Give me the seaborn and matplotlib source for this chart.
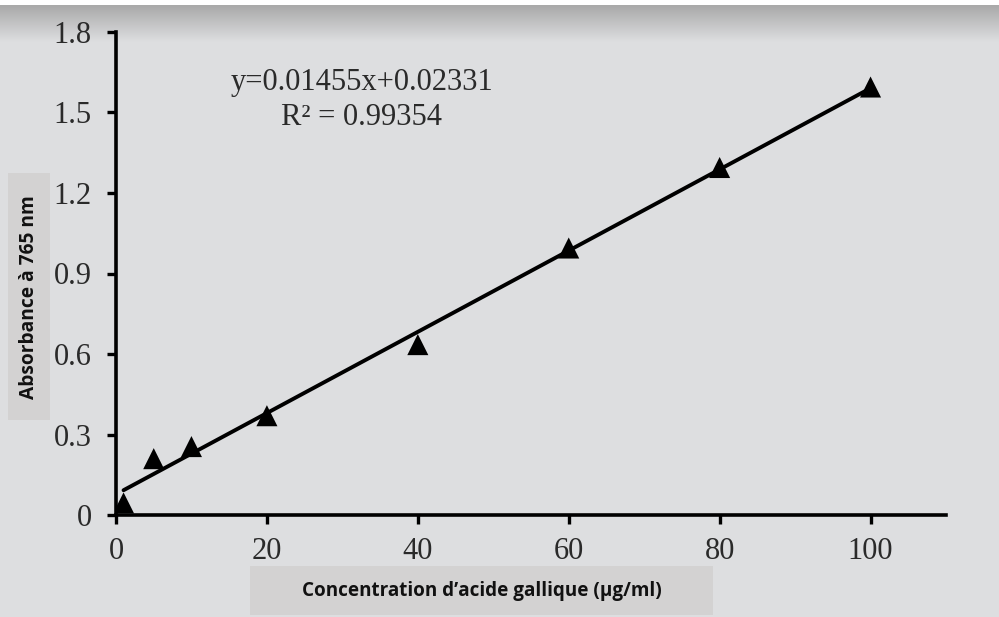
import matplotlib.pyplot as plt
import numpy as np
import pandas as pd
import seaborn as sns
from matplotlib.colors import LinearSegmentedColormap
from matplotlib.patches import Rectangle

# gallic acid calibration points
concentration = [1, 5, 10, 20, 40, 60, 80, 100]
absorbance = [0.045, 0.21, 0.255, 0.37, 0.635, 0.995, 1.295, 1.595]
x_ticks = [0, 20, 40, 60, 80, 100]
y_ticks = [0, 0.3, 0.6, 0.9, 1.2, 1.5, 1.8]
y_ticklabels = ["0", "0.3", "0.6", "0.9", "1.2", "1.5", "1.8"]
equation = "y=0.01455x+0.02331"
r_squared = "R² = 0.99354"

bg = "#dddee0"
box = "#d3d2d2"
txt = "#2a2a2a"

sns.set_theme(style="ticks")
plt.rcParams["font.family"] = ["Liberation Serif", "DejaVu Serif"]

df = pd.DataFrame({"conc": concentration, "abs": absorbance})

fig = plt.figure(figsize=(9.99, 6.17), dpi=100, facecolor=bg)

# top shadow band like the scanned source
shade = fig.add_axes([0, 1 - 42 / 617, 1, 37 / 617], zorder=0)
grad = np.linspace(0, 1, 50).reshape(-1, 1)
cmap = LinearSegmentedColormap.from_list("shade", ["#a9a9a9", bg])
shade.imshow(grad, aspect="auto", cmap=cmap, extent=[0, 1, 0, 1], origin="upper")
shade.axis("off")
fig.patches.append(Rectangle((0, 1 - 5 / 617), 1, 5 / 617, transform=fig.transFigure,
                             facecolor="white", edgecolor="none", zorder=5))

ax = fig.add_axes([116 / 999, 1 - 515 / 617, (946 - 116) / 999, (515 - 32) / 617], zorder=1)
ax.patch.set_visible(False)

sns.regplot(data=df, x="conc", y="abs", ax=ax, ci=None, marker="^",
            scatter_kws={"s": 230, "color": "black", "edgecolor": "none",
                         "alpha": 1, "zorder": 3},
            line_kws={"color": "black", "linewidth": 2.8})

ax.set_xlim(0, 110)
ax.set_ylim(0, 1.8)
ax.set_xticks(x_ticks)
ax.set_yticks(y_ticks)
ax.set_yticklabels(y_ticklabels)
ax.set_xlabel("")
ax.set_ylabel("")
ax.tick_params(axis="both", labelsize=22, width=2.4, length=6.5, color="black",
               labelcolor=txt)
ax.tick_params(axis="y", pad=11)
ax.tick_params(axis="x", pad=9)
for side in ["top", "right"]:
    ax.spines[side].set_visible(False)
for side in ["left", "bottom"]:
    ax.spines[side].set_linewidth(2.6)
    ax.spines[side].set_color("black")

ax.text(0.296, 0.896, equation, transform=ax.transAxes, ha="center", va="center",
        fontsize=22, color=txt)
ax.text(0.296, 0.822, r_squared, transform=ax.transAxes, ha="center", va="center",
        fontsize=22, color=txt)

# axis titles in grey boxes
fig.patches.append(Rectangle((250 / 999, 1 - 615 / 617), 463 / 999, 49 / 617,
                             transform=fig.transFigure, facecolor=box, edgecolor="none"))
fig.text((250 + 463 / 2) / 999, 1 - 591 / 617, "Concentration d’acide gallique (µg/ml)",
         ha="center", va="center", fontsize=13.6, fontweight="bold",
         family=["Open Sans", "DejaVu Sans"], color="#111111")
fig.patches.append(Rectangle((8 / 999, 1 - 420 / 617), 42 / 999, 247 / 617,
                             transform=fig.transFigure, facecolor=box, edgecolor="none"))
fig.text(29 / 999, 1 - 297 / 617, "Absorbance à 765 nm", rotation=90,
         ha="center", va="center", fontsize=13.8, fontweight="bold",
         family=["Open Sans", "DejaVu Sans"], color="#111111")

fig.savefig("out.png", dpi=100, facecolor=bg)
